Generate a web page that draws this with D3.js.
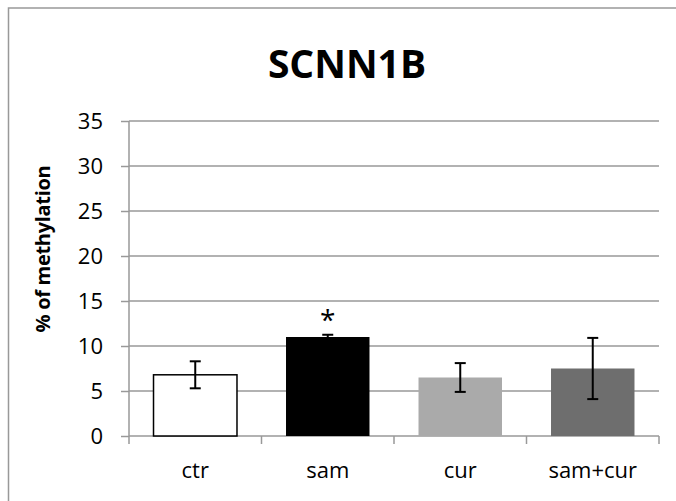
<!DOCTYPE html>
<html lang="en">
<head>
<meta charset="UTF-8">
<script src="https://d3js.org/d3.v7.min.js"></script>
<style>
  html, body { margin: 0; padding: 0; background: #fff; }
  #chart text { font-family: 'Open Sans', sans-serif; fill: #000; }
</style>
</head>
<body>
<div id="chart"></div>
<script>
  // data
  var groups = ['ctr', 'sam', 'cur', 'sam+cur'];
  var means = [6.8, 11.0, 6.5, 7.5];
  var errors = [1.5, 0.25, 1.6, 3.4];
  var fills = ['#ffffff', '#000000', '#aaaaaa', '#6e6e6e'];
  var marks = ['', '*', '', ''];
  var yTicks = [0, 5, 10, 15, 20, 25, 30, 35];

  var width = 676, height = 501;
  var margin = {top: 121, right: 17, bottom: 65, left: 129};

  var svg = d3.select('#chart').append('svg')
    .attr('width', width)
    .attr('height', height);

  // outer frame
  svg.append('rect')
    .attr('x', 8.5).attr('y', 8)
    .attr('width', 720).attr('height', 600)
    .attr('fill', 'none')
    .attr('stroke', '#999')
    .attr('stroke-width', 1.5);

  var x = d3.scaleBand()
    .domain(groups)
    .range([margin.left, width - margin.right])
    .paddingInner(0.37)
    .paddingOuter(0.185);

  var y = d3.scaleLinear()
    .domain([0, 35])
    .range([height - margin.bottom, margin.top]);

  // grid + y axis
  var yAxis = svg.append('g')
    .attr('transform', 'translate(' + margin.left + ',0)')
    .call(d3.axisLeft(y).tickValues(yTicks).tickSize(8).tickPadding(18));
  yAxis.select('.domain').remove();
  yAxis.selectAll('.tick line').attr('stroke', '#999').attr('stroke-width', 1.5);
  yAxis.selectAll('.tick text').style('font-size', '22px').attr('dy', '0.35em');

  svg.append('g').selectAll('line')
    .data(yTicks.filter(function(d) { return d > 0; }))
    .enter().append('line')
    .attr('x1', margin.left).attr('x2', width - margin.right)
    .attr('y1', function(d) { return y(d); })
    .attr('y2', function(d) { return y(d); })
    .attr('stroke', '#999')
    .attr('stroke-width', 1.5);

  svg.append('line')
    .attr('x1', margin.left).attr('x2', margin.left)
    .attr('y1', y(35)).attr('y2', y(0))
    .attr('stroke', '#999').attr('stroke-width', 1.5);

  // x axis with ticks between categories
  var step = x.step();
  var edges = d3.range(groups.length + 1).map(function(i) { return margin.left + i * step; });
  svg.append('line')
    .attr('x1', margin.left).attr('x2', width - margin.right)
    .attr('y1', y(0)).attr('y2', y(0))
    .attr('stroke', '#999').attr('stroke-width', 1.5);
  svg.append('g').selectAll('line')
    .data(edges)
    .enter().append('line')
    .attr('x1', function(d) { return d; }).attr('x2', function(d) { return d; })
    .attr('y1', y(0)).attr('y2', y(0) + 8)
    .attr('stroke', '#999').attr('stroke-width', 1.5);

  svg.append('g').selectAll('text')
    .data(groups)
    .enter().append('text')
    .attr('x', function(d) { return x(d) + x.bandwidth() / 2; })
    .attr('y', 478)
    .attr('text-anchor', 'middle')
    .style('font-size', '22px')
    .text(function(d) { return d; });

  // bars
  svg.append('g').selectAll('rect')
    .data(groups)
    .enter().append('rect')
    .attr('x', function(d) { return x(d); })
    .attr('y', function(d, i) { return y(means[i]); })
    .attr('width', x.bandwidth())
    .attr('height', function(d, i) { return y(0) - y(means[i]); })
    .attr('fill', function(d, i) { return fills[i]; })
    .attr('stroke', function(d, i) { return i === 0 ? '#000' : 'none'; })
    .attr('stroke-width', 1.5);

  // error bars
  var cap = 5.5;
  var eb = svg.append('g').selectAll('g')
    .data(groups)
    .enter().append('g')
    .attr('stroke', '#000')
    .attr('stroke-width', 2);
  eb.append('line')
    .attr('x1', function(d) { return x(d) + x.bandwidth() / 2; })
    .attr('x2', function(d) { return x(d) + x.bandwidth() / 2; })
    .attr('y1', function(d, i) { return y(means[i] + errors[i]); })
    .attr('y2', function(d, i) { return y(means[i] - errors[i]); });
  eb.append('line')
    .attr('x1', function(d) { return x(d) + x.bandwidth() / 2 - cap; })
    .attr('x2', function(d) { return x(d) + x.bandwidth() / 2 + cap; })
    .attr('y1', function(d, i) { return y(means[i] + errors[i]); })
    .attr('y2', function(d, i) { return y(means[i] + errors[i]); });
  eb.append('line')
    .attr('x1', function(d) { return x(d) + x.bandwidth() / 2 - cap; })
    .attr('x2', function(d) { return x(d) + x.bandwidth() / 2 + cap; })
    .attr('y1', function(d, i) { return y(means[i] - errors[i]); })
    .attr('y2', function(d, i) { return y(means[i] - errors[i]); });

  // significance marks
  svg.append('g').selectAll('text')
    .data(groups)
    .enter().append('text')
    .attr('x', function(d) { return x(d) + x.bandwidth() / 2; })
    .attr('y', function(d, i) { return y(means[i] + errors[i]) - 5; })
    .attr('text-anchor', 'middle')
    .style('font-size', '28px')
    .text(function(d, i) { return marks[i]; });

  // title
  svg.append('text')
    .attr('x', 347)
    .attr('y', 78)
    .attr('text-anchor', 'middle')
    .style('font-size', '39px')
    .style('font-weight', 'bold')
    .text('SCNN1B');

  // y label
  svg.append('text')
    .attr('transform', 'translate(50,249) rotate(-90)')
    .attr('text-anchor', 'middle')
    .style('font-size', '20px')
    .style('font-weight', 'bold')
    .style('letter-spacing', '-0.3px')
    .text('% of methylation');
</script>
</body>
</html>
